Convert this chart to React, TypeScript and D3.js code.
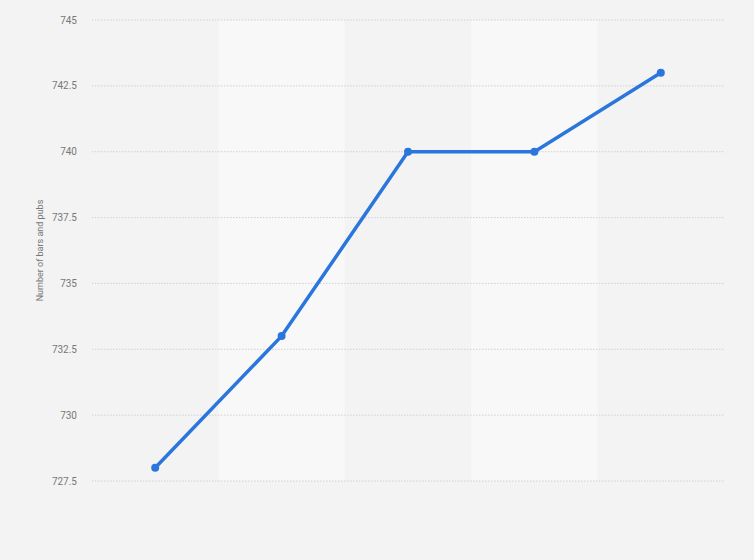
import React from "react";
import * as d3 from "d3";

const categories = ["A", "B", "C", "D", "E"];
const values = [728, 733, 740, 740, 743];
const yTicks = [727.5, 730, 732.5, 735, 737.5, 740, 742.5, 745];
const yLabel = "Number of bars and pubs";

const W = 754;
const H = 560;
const M = { left: 92, right: 30, top: 20, bottom: 79 };

export default function App() {
  const x = d3
    .scaleBand<string>()
    .domain(categories)
    .range([M.left, W - M.right])
    .paddingInner(0)
    .paddingOuter(0);
  const y = d3.scaleLinear().domain([727.5, 745]).range([H - M.bottom, M.top]);
  const line = d3
    .line<number>()
    .x((_, i) => (x(categories[i]) as number) + x.bandwidth() / 2)
    .y((d) => y(d));

  return (
    <div style={{ position: "fixed", left: 0, top: 0, width: W, height: H }}>
      <svg width={W} height={H} style={{ display: "block", fontFamily: "Roboto, Arial, sans-serif" }}>
        <rect x={0} y={0} width={W} height={H} fill="#f3f3f3" />
        {categories.map((c, i) =>
          i % 2 === 1 ? (
            <rect
              key={c}
              x={x(c) as number}
              y={M.top}
              width={x.bandwidth()}
              height={H - M.bottom - M.top}
              fill="#f8f8f8"
            />
          ) : null
        )}
        {yTicks.map((t) => (
          <g key={t}>
            <line
              x1={M.left}
              x2={W - M.right}
              y1={y(t)}
              y2={y(t)}
              stroke="#d0d0d0"
              strokeWidth={1}
              strokeDasharray="1.5 1.5"
            />
            <text
              x={77}
              y={y(t)}
              dy="0.35em"
              textAnchor="end"
              fontSize={10}
              fill="#777"
            >
              {String(t)}
            </text>
          </g>
        ))}
        <text
          transform={`translate(43, ${(M.top + H - M.bottom) / 2}) rotate(-90)`}
          textAnchor="middle"
          fontSize={9}
          fill="#777"
        >
          {yLabel}
        </text>
        <path d={line(values) || ""} fill="none" stroke="#2a76dd" strokeWidth={3.5} strokeLinejoin="round" />
        {values.map((v, i) => (
          <circle
            key={i}
            cx={(x(categories[i]) as number) + x.bandwidth() / 2}
            cy={y(v)}
            r={4}
            fill="#2a76dd"
          />
        ))}
      </svg>
    </div>
  );
}
